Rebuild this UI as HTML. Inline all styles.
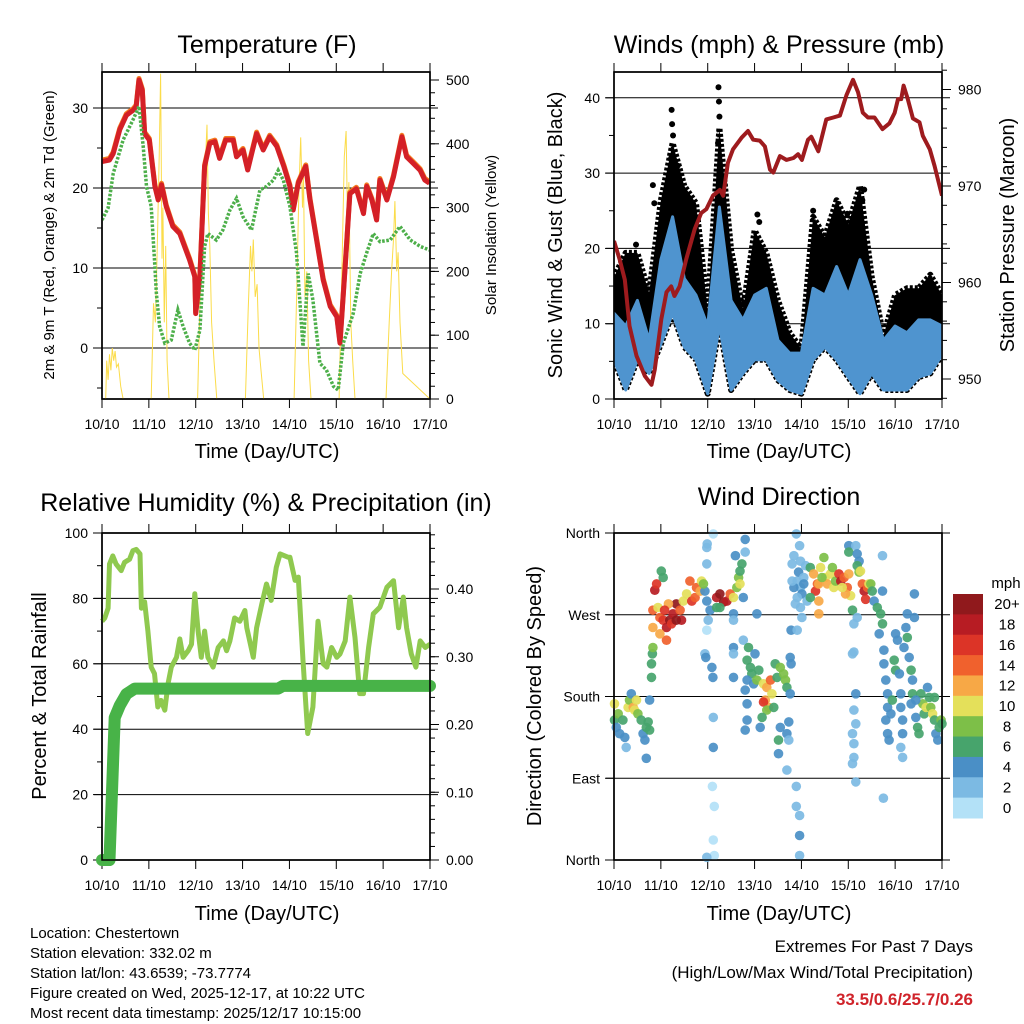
<!DOCTYPE html>
<html><head><meta charset="utf-8"><style>
html,body{margin:0;padding:0;background:#fff;}
svg{display:block;font-family:"Liberation Sans",Arial,sans-serif;}
</style></head><body>
<svg id="fig" width="1024" height="1024" viewBox="0 0 1024 1024" xmlns="http://www.w3.org/2000/svg">
<rect width="1024" height="1024" fill="#fff"/>
<g id="layer"></g>
<g text-anchor="middle" font-size="25" fill="#000">
<text x="267" y="53">Temperature (F)</text>
<text x="779" y="53">Winds (mph) &amp; Pressure (mb)</text>
<text x="266" y="511">Relative Humidity (%) &amp; Precipitation (in)</text>
<text x="779" y="505">Wind Direction</text>
</g>
<g font-size="20" text-anchor="middle">
<text x="267" y="458">Time (Day/UTC)</text>
<text x="779" y="458">Time (Day/UTC)</text>
<text x="267" y="920">Time (Day/UTC)</text>
<text x="779" y="920">Time (Day/UTC)</text>
<text transform="translate(562,235) rotate(-90)">Sonic Wind &amp; Gust (Blue, Black)</text>
<text transform="translate(1014,235) rotate(-90)">Station Pressure (Maroon)</text>
<text transform="translate(46,696) rotate(-90)">Percent &amp; Total Rainfall</text>
<text transform="translate(541,696) rotate(-90)">Direction (Colored By Speed)</text>
</g>
<g font-size="15" text-anchor="middle">
<text transform="translate(54,235) rotate(-90)">2m &amp; 9m T (Red, Orange) &amp; 2m Td (Green)</text>
<text transform="translate(496,235) rotate(-90)">Solar Insolation (Yellow)</text>
</g>
<g font-size="15">
<text x="30" y="938">Location: Chestertown</text>
<text x="30" y="958">Station elevation: 332.02 m</text>
<text x="30" y="978">Station lat/lon: 43.6539; -73.7774</text>
<text x="30" y="998">Figure created on Wed, 2025-12-17, at 10:22 UTC</text>
<text x="30" y="1018">Most recent data timestamp: 2025/12/17 10:15:00</text>
</g>
<g font-size="17" text-anchor="end">
<text x="973" y="952">Extremes For Past 7 Days</text>
<text x="973" y="978">(High/Low/Max Wind/Total Precipitation)</text>
<text x="973" y="1005" fill="#d0232a" font-weight="bold">33.5/0.6/25.7/0.26</text>
</g>
</svg>
<script>
// ---------- data ----------
const dayLabels = ["10/10","11/10","12/10","13/10","14/10","15/10","16/10","17/10"];
// temperature (F)
const tempT = [0,0.16,0.24,0.38,0.52,0.67,0.73,0.79,0.86,0.91,1.01,1.13,1.2,1.27,1.37,1.51,1.66,1.87,1.98,2.0,2.09,2.19,2.3,2.41,2.51,2.64,2.8,2.87,3.01,3.11,3.3,3.44,3.58,3.73,3.88,4.01,4.08,4.19,4.35,4.44,4.58,4.72,4.87,5.01,5.08,5.19,5.29,5.43,5.58,5.65,5.76,5.86,5.93,6.08,6.22,6.4,6.5,6.64,6.79,6.89,6.99];
const tempV = [23.3,23.5,24.3,27.3,29.1,29.75,30.2,33.5,32.2,26.8,26,20.2,18.5,20.4,17.7,15.2,14.3,11,8.9,4.3,8.9,22.7,25.6,25.8,23.7,26,26,23.9,24.75,22.25,26.8,24.75,26.4,25.2,22.7,20.2,17.25,20.6,22.7,18.5,13.5,8.5,5.2,3.9,0.6,10.2,19.3,19.9,16.8,20.2,18.5,16,21,18.5,21.4,26.4,23.9,23.1,22.2,21,20.6];
const dewT = [0,0.13,0.24,0.45,0.66,0.79,0.88,0.95,1.05,1.12,1.16,1.23,1.34,1.48,1.62,1.73,1.87,1.98,2.09,2.19,2.26,2.44,2.58,2.73,2.87,3.01,3.19,3.37,3.51,3.66,3.76,3.87,4.01,4.15,4.29,4.4,4.5,4.65,4.79,4.94,5.04,5.15,5.36,5.51,5.65,5.79,5.93,6.15,6.36,6.58,6.79,6.99];
const dewV = [16,17.5,21.8,26,28.5,30.2,25.2,20.2,17.7,11,6.8,2.7,0.6,1,4.75,2.7,0.6,-0.25,2.25,12.7,14.3,13.5,14.75,17.25,18.7,16.4,14.75,19.75,20.2,21,22.2,21,17.7,11.9,0.2,9.3,6,-1.9,-2.75,-4.8,-5.25,0.6,4.3,9.3,11.9,14.3,13.3,13.5,15.2,13.5,12.7,12.25];
const solarT = [0,0.08,0.1,0.13,0.16,0.19,0.22,0.25,0.28,0.31,0.35,0.4,0.45,1.05,1.1,1.14,1.18,1.22,1.25,1.28,1.3,1.33,1.36,1.39,1.43,2.04,2.1,2.15,2.2,2.24,2.27,2.3,2.34,2.39,2.45,3.06,3.12,3.17,3.2,3.23,3.27,3.31,3.35,3.4,3.45,4.1,4.16,4.2,4.24,4.28,4.3,4.33,4.37,4.41,4.46,5.06,5.12,5.17,5.21,5.24,5.27,5.31,5.35,5.4,6.06,6.13,6.18,6.22,6.25,6.29,6.32,6.36,6.42,7];
const solarV = [0,0,60,30,70,45,80,60,75,50,55,20,0,0,150,120,240,380,510,220,300,120,240,60,0,0,180,280,360,430,290,240,120,60,0,0,140,240,200,250,160,180,80,40,0,0,180,320,410,300,350,160,200,60,0,0,200,380,420,280,340,120,60,0,0,120,200,250,310,200,230,120,40,0];
// winds (mph) & pressure (mb)
const windT = [0,0.25,0.5,0.75,1,1.25,1.5,1.75,2,2.25,2.5,2.75,3,3.25,3.5,3.75,4,4.25,4.5,4.75,5,5.25,5.5,5.75,6,6.25,6.5,6.75,7];
const sonicHi = [11.4,9.7,13.1,7.8,18.5,24.2,16,13.8,9.7,25.5,13.1,10.5,13.8,14.7,7.8,6.1,6.1,14.7,13.8,17.6,13.8,18.5,13.8,7.8,9.7,8.8,10.5,10.5,9.7];
const sonicLo = [5.2,1.2,5.2,3.4,7.3,11.4,6.9,5.2,0.7,9.7,1.2,3.4,5.2,5.2,2.5,1.2,0.7,5.2,6.9,5.2,2.9,0.7,3.4,1.2,1.2,1.2,2.9,3.4,5.9];
const gustHi = [16.2,19.4,19.4,14,26.4,34,28.3,26,11.8,36,19.8,11.8,22.4,19.4,13.1,8.8,6.6,24.2,21.5,26.4,23.2,28.3,16.2,8.4,13.8,14.7,14.7,16.5,13.8];
const gustOutT = [0.47,0.83,0.86,1.23,1.24,1.26,1.22,1.36,1.58,2.23,2.24,2.25,2.22,2.26,3.06,3.1,5.34,5.3,4.98,4.25];
const gustOutV = [20.5,28.4,26,38.4,36.5,35,32,31,26,41.4,39.5,37.5,34,30,24.5,23.5,27.8,26.4,24.6,25];
const presT = [0,0.12,0.23,0.33,0.48,0.66,0.8,0.87,1.01,1.12,1.22,1.29,1.4,1.54,1.72,1.86,1.97,2.11,2.26,2.33,2.43,2.54,2.72,2.86,2.97,3.11,3.22,3.33,3.4,3.54,3.68,3.83,3.93,4.01,4.14,4.21,4.36,4.53,4.68,4.82,4.96,5.1,5.21,5.31,5.42,5.56,5.73,5.88,5.99,6.06,6.13,6.18,6.27,6.38,6.52,6.59,6.74,6.84,7];
const presV = [964.3,962.4,960.3,955.5,952.4,950.3,949.4,951,956.2,959,959.6,958.6,959.6,962.4,965.5,967.2,967.6,969,969.6,969,972.4,973.8,975,975.7,974.8,974.7,974.1,971.7,971.4,973.1,972.7,972.9,973.3,972.7,974.8,975.1,973.6,976.9,977.1,977.3,979.4,981,979.7,977.6,977.1,977.1,975.9,976.5,977.6,979,979,980.4,979,977,976.6,975.2,973.8,972.1,969];
// relative humidity (%) & precipitation (in)
const rhT = [0,0.06,0.13,0.16,0.23,0.3,0.41,0.48,0.59,0.66,0.73,0.81,0.84,0.91,0.98,1.05,1.12,1.19,1.26,1.34,1.41,1.48,1.59,1.66,1.73,1.84,1.91,1.98,2.05,2.12,2.19,2.26,2.37,2.48,2.59,2.66,2.73,2.83,2.94,3.05,3.09,3.23,3.3,3.41,3.51,3.61,3.72,3.8,3.97,4.01,4.12,4.19,4.29,4.39,4.5,4.61,4.72,4.8,4.9,5.01,5.08,5.19,5.29,5.4,5.5,5.58,5.69,5.79,5.93,6.08,6.22,6.33,6.43,6.5,6.6,6.7,6.79,6.9,7];
const rhV = [73,74,77,90.5,93,90.5,88.5,91,92,94.6,95,93.6,77,79,70,59,57,46.8,48.8,45.8,54,59,62,67.6,62,64,66,81.4,70,62,70,62,59,65,67,64,67,74,73,76.3,71,62,71,78.3,84.4,79.4,89.5,93.6,92.6,92.6,85.5,86.5,61,38.7,46.8,73,60,59,65,62,63,67,80.4,68,50.9,50.9,65,75.3,77.3,83.4,85.4,71,80.4,71,63,59,67,65,66,67,71.2];
const precT = [0,0.16,0.27,0.38,0.52,0.7,3.76,3.86,7];
const precV = [0,0,0.21,0.228,0.245,0.253,0.253,0.257,0.257];
// wind direction: day, degrees, speed (mph)
const dirT = [0.01,0.01,0.05,0.09,0.12,0.19,0.23,0.26,0.3,0.33,0.37,0.41,0.44,0.48,0.51,0.58,0.62,0.66,0.69,0.73,0.76,0.69,0.76,
0.8,0.8,0.82,0.83,0.83,0.83,0.87,0.91,1.01,1.05,0.94,0.98,1.05,1.12,1.19,1.23,1.26,1.33,1.41,1.44,1.48,1.12,1.16,1.08,1.33,0.98,
1.55,1.62,1.66,1.73,1.76,1.84,1.87,1.94,1.91,1.98,2.01,1.98,2.05,1.98,1.98,1.99,2.12,
2.09,2.11,2.12,2.12,2.1,2.14,2.12,2.14,1.98,1.94,1.96,
2.19,2.26,2.34,2.41,2.48,2.55,2.62,2.66,2.69,2.69,2.73,2.26,2.19,2.55,2.55,2.59,2.76,2.8,2.8,2.55,2.55,2.55,
2.76,2.84,2.87,2.91,2.94,2.98,2.84,2.8,3.01,3.05,3.09,3.05,2.84,2.8,2.84,
3.19,3.26,3.34,3.23,3.3,3.19,3.26,3.16,3.37,3.41,3.12,3.51,3.51,3.48,3.44,3.55,3.62,3.66,3.69,3.69,3.73,3.76,3.76,3.78,3.55,3.69,3.73,
3.89,3.89,3.96,3.96,3.96,3.89,3.96,3.78,3.91,
3.8,3.84,3.91,3.94,3.98,4.01,4.05,4.09,4.12,3.84,3.91,3.98,4.01,3.87,3.8,3.98,4.05,
4.19,4.26,4.3,4.34,4.37,4.37,4.41,4.48,4.51,4.55,4.62,4.66,4.69,4.73,4.8,4.84,4.91,4.98,5.01,5.05,4.94,4.87,4.19,4.37,4.44,
5.01,5.01,5.16,5.19,5.23,5.19,5.23,5.26,5.3,5.34,5.37,5.41,5.44,5.48,5.51,5.55,5.62,5.69,5.73,5.66,5.73,5.73,5.09,5.12,5.19,
5.09,5.12,5.16,5.12,5.16,5.09,5.12,5.12,5.09,5.16,5.75,
5.76,5.76,5.8,5.84,5.84,5.8,5.84,5.87,5.91,5.94,5.98,6.01,6.01,6.05,6.09,6.12,6.12,6.16,6.16,6.12,6.16,6.19,6.23,6.26,6.26,6.3,6.34,6.37,6.37,6.41,6.41,6.34,6.44,6.48,6.51,6.55,6.59,6.62,6.66,6.69,6.73,6.76,6.8,6.84,6.87,6.91,6.94,6.98,7.0,6.84,6.44];
const dirD = [172,154,146,161,139,154,135,124,168,176,183,168,165,176,161,154,139,132,146,152,143,112,176,
201,216,227,234,256,275,297,304,318,311,278,267,264,256,264,260,271,282,275,264,285,242,282,275,264,249,
293,307,285,289,300,296,307,296,304,285,264,253,275,344,326,348,359,
212,201,157,124,81,59,22,5,3,227,223,
289,293,284,285,293,289,300,311,318,304,326,278,278,271,264,335,289,339,353,234,227,201,
242,220,234,212,205,194,198,187,227,198,209,271,154,143,172,
194,190,198,176,168,174,165,157,183,168,146,132,117,201,216,212,205,198,190,139,152,183,223,216,146,99,132,
81,59,49,27,5,359,346,253,253,
326,335,307,317,300,293,311,324,285,300,289,278,267,282,307,329,304,
322,315,296,304,285,271,322,333,311,304,315,322,300,307,315,307,311,300,315,291,293,300,289,304,311,
346,339,346,337,329,324,317,318,304,296,287,300,304,304,296,285,278,271,260,249,296,335,275,260,267,
227,229,183,165,150,139,128,113,106,86,68,
231,216,198,183,168,154,139,132,161,176,220,209,249,242,205,183,168,154,139,124,113,234,256,271,245,223,209,198,183,293,267,172,157,146,139,183,172,161,168,190,179,168,161,154,139,132,146,154,150,179,176];
const dirS = [10,6,4,8,4,6,4,2,10,8,4,12,10,10,8,6,4,4,6,6,6,4,4,
6,6,6,8,12,14,18,16,6,6,10,14,16,18,20,16,18,20,14,18,10,14,12,16,20,12,
10,14,16,14,14,12,10,4,8,4,2,0,4,2,2,2,0,
4,4,2,4,0,0,0,0,2,2,4,
18,20,20,18,14,10,8,8,6,10,6,6,6,4,2,4,4,2,4,4,2,4,
2,6,6,6,6,4,4,4,4,8,6,4,4,4,4,
10,12,14,12,12,16,8,6,10,6,4,6,4,6,6,8,8,8,6,4,4,4,4,4,4,2,2,
2,2,2,4,2,2,2,4,2,
2,2,2,4,2,4,2,2,2,4,2,2,2,2,2,2,4,
6,12,16,14,12,12,10,8,10,12,10,8,10,8,16,18,14,14,12,10,12,10,6,12,8,
4,6,2,4,4,6,8,10,14,18,16,14,10,8,6,4,6,6,6,4,4,2,6,2,2,
2,2,4,2,2,2,2,2,2,2,2,
4,4,4,4,4,4,4,4,4,6,6,6,4,4,4,4,4,4,4,2,2,4,4,4,6,4,6,4,6,4,4,4,4,6,6,6,8,6,10,4,6,8,10,6,4,4,6,8,6,6,4];
const speedLabels = ["0","2","4","6","8","10","12","14","16","18","20+"];
const speedColors = ["#b3e1f7","#7cbae3","#4a8fc6","#47a46c","#7dbf48","#e4e05a","#f7a846","#f0612d","#dc3427","#b71c23","#90191c"];

// ---------- helpers ----------
const NS = "http://www.w3.org/2000/svg";
const layer = document.getElementById("layer");
function mk(tag, attrs, parent){ const e=document.createElementNS(NS,tag); for(const k in attrs) e.setAttribute(k,attrs[k]); (parent||layer).appendChild(e); return e; }
function txt(x,y,s,anchor,size,parent){ const e=mk("text",{x:x,y:y,"text-anchor":anchor,"font-size":size},parent); e.textContent=s; return e; }
function pathFrom(xs,ys,fx,fy){ let d=""; for(let i=0;i<xs.length;i++){ d+=(i?"L":"M")+fx(xs[i]).toFixed(1)+","+fy(ys[i]).toFixed(1);} return d; }

function frame(name,x0,x1,y0,y1){
  const g=mk("g",{});
  
  
  mk("rect",{x:x0,y:y0,width:x1-x0,height:y1-y0,fill:"none",stroke:"#000","stroke-width":1.5},g);
  return g;
}
function timeAxis(g,x0,x1,y0,y1,ylab){
  const xs=t=>x0+t*(x1-x0)/7;
  for(let i=0;i<dayLabels.length;i++){
    const x=xs(i);
    mk("line",{x1:x,y1:y0-9,x2:x,y2:y0,stroke:"#000","stroke-width":1},g);
    mk("line",{x1:x,y1:y1,x2:x,y2:y1+9,stroke:"#000","stroke-width":1},g);
    const t=txt(x,ylab,dayLabels[i],"middle",14,g);
    
    
  }
}
function leftTicks(g,x0,vals,fy,labels,minor){
  vals.forEach((v,i)=>{ const y=fy(v); mk("line",{x1:x0-9,y1:y,x2:x0,y2:y,stroke:"#000"},g);
    const t=txt(x0-14,y+5,labels[i],"end",14,g);
    
     });
  (minor||[]).forEach(v=>{ const y=fy(v); mk("line",{x1:x0-5,y1:y,x2:x0,y2:y,stroke:"#000"},g); });
}
function rightTicks(g,x1,vals,fy,labels,minor){
  vals.forEach((v,i)=>{ const y=fy(v); mk("line",{x1:x1,y1:y,x2:x1+9,y2:y,stroke:"#000"},g);
    const t=txt(x1+16,y+5,labels[i],"start",14,g);
    
     });
  (minor||[]).forEach(v=>{ const y=fy(v); mk("line",{x1:x1,y1:y,x2:x1+5,y2:y,stroke:"#000"},g); });
}
function grid(g,x0,x1,vals,fy){ vals.forEach(v=>{ const y=fy(v); mk("line",{x1:x0-8,y1:y,x2:x1+8,y2:y,stroke:"#000","stroke-width":1},g); }); }
function range(a,b,s){ const r=[]; for(let v=a;v<=b+1e-9;v+=s) r.push(+v.toFixed(4)); return r; }

// ---------- panel 1: temperature ----------
(function(){
  const x0=102,x1=430,y0=72,y1=399;
  const xs=t=>x0+t*(x1-x0)/7, yL=v=>348-v*8, yR=s=>399-s*0.638;
  const clip=mk("clipPath",{id:"c1"}); mk("rect",{x:x0,y:y0,width:x1-x0,height:y1-y0},clip);
  const g=frame("temperature",x0,x1,y0,y1);
  grid(g,x0,x1,[0,10,20,30],yL);
  const d=mk("g",{"clip-path":"url(#c1)"});
  const s=mk("path",{d:pathFrom(solarT,solarV,xs,yR),fill:"none",stroke:"#fbdc4a","stroke-width":1});
   
  d.appendChild(s);
  const o=mk("path",{d:pathFrom(tempT,tempV,xs,v=>yL(v)-1.5),fill:"none",stroke:"#f47b20","stroke-width":5,"stroke-linejoin":"round"},d);
   
  const r=mk("path",{d:pathFrom(tempT,tempV,xs,yL),fill:"none",stroke:"#d42027","stroke-width":5,"stroke-linejoin":"round"},d);
   
  const gd=mk("path",{d:pathFrom(dewT,dewV,xs,yL),fill:"none",stroke:"#4daf4a","stroke-width":3.5,"stroke-dasharray":"2.6 1.6"},d);
   
  mk("rect",{x:x0,y:y0,width:x1-x0,height:y1-y0,fill:"none",stroke:"#000","stroke-width":1.5});
  timeAxis(g,x0,x1,y0,y1,429);
  leftTicks(g,x0,[0,10,20,30],yL,["0","10","20","30"],[-5,5,15,25]);
  rightTicks(g,x1,[0,100,200,300,400,500],yR,["0","100","200","300","400","500"],range(20,480,20));
})();

// ---------- panel 2: winds ----------
(function(){
  const x0=614,x1=942,y0=72,y1=399;
  const xs=t=>x0+t*(x1-x0)/7, yL=v=>399-v*7.53, yR=p=>379-(p-950)*9.65;
  const clip=mk("clipPath",{id:"c2"}); mk("rect",{x:x0,y:y0,width:x1-x0,height:y1-y0},clip);
  const g=frame("winds",x0,x1,y0,y1);
  grid(g,x0,x1,[10,20,30,40],yL);
  const d=mk("g",{"clip-path":"url(#c2)"});
  let gp=pathFrom(windT,gustHi,xs,yL); for(let i=windT.length-1;i>=0;i--) gp+="L"+xs(windT[i]).toFixed(1)+","+yL(sonicLo[i]).toFixed(1); gp+="Z";
  const gb=mk("path",{d:gp,fill:"#000",stroke:"#000","stroke-width":6,"stroke-linejoin":"round","stroke-dasharray":"3 2"},d);
   
  for(let i=0;i<gustOutT.length;i++){ const c=mk("circle",{cx:xs(gustOutT[i]),cy:yL(gustOutV[i]),r:3,fill:"#000"},d);
      }
  let bp=pathFrom(windT,sonicHi,xs,yL); for(let i=windT.length-1;i>=0;i--) bp+="L"+xs(windT[i]).toFixed(1)+","+yL(sonicLo[i]).toFixed(1); bp+="Z";
  const bb=mk("path",{d:bp,fill:"#4f94cf",stroke:"#4f94cf","stroke-width":3,"stroke-linejoin":"round"},d);
   
  const p=mk("path",{d:pathFrom(presT,presV,xs,yR),fill:"none",stroke:"#9e1b1e","stroke-width":4,"stroke-linejoin":"round"},d);
   
  mk("rect",{x:x0,y:y0,width:x1-x0,height:y1-y0,fill:"none",stroke:"#000","stroke-width":1.5});
  timeAxis(g,x0,x1,y0,y1,429);
  leftTicks(g,x0,[0,10,20,30,40],yL,["0","10","20","30","40"],[5,15,25,35]);
  rightTicks(g,x1,[950,960,970,980],yR,["950","960","970","980"],range(948,982,2));
})();

// ---------- panel 3: humidity ----------
(function(){
  const x0=102,x1=430,y0=533,y1=860;
  const xs=t=>x0+t*(x1-x0)/7, yL=v=>860-v*3.27, yR=p=>860-p*677.5;
  const g=frame("humidity",x0,x1,y0,y1);
  grid(g,x0,x1,[20,40,60,80],yL);
  const rh=mk("path",{d:pathFrom(rhT,rhV,xs,yL),fill:"none",stroke:"#8fc94f","stroke-width":5,"stroke-linejoin":"round"});
   
  const pr=mk("path",{d:pathFrom(precT,precV,xs,yR),fill:"none",stroke:"#48b348","stroke-width":12,"stroke-linejoin":"round","stroke-linecap":"round"});
   
  mk("rect",{x:x0,y:y0,width:x1-x0,height:y1-y0,fill:"none",stroke:"#000","stroke-width":1.5});
  timeAxis(g,x0,x1,y0,y1,890);
  leftTicks(g,x0,[0,20,40,60,80,100],yL,["0","20","40","60","80","100"],[10,30,50,70,90]);
  rightTicks(g,x1,[0,0.1,0.2,0.3,0.4],yR,["0.00","0.10","0.20","0.30","0.40"],range(0.02,0.48,0.02));
})();

// ---------- panel 4: wind direction ----------
(function(){
  const x0=614,x1=942,y0=533,y1=860;
  const xs=t=>x0+t*(x1-x0)/7, yD=v=>860-v*327/360;
  const g=frame("wind-direction",x0,x1,y0,y1);
  grid(g,x0,x1,[90,180,270],yD);
  for(let i=0;i<dirT.length;i++){
    const idx=Math.min(10,Math.floor(dirS[i]/2));
    const c=mk("circle",{cx:xs(dirT[i]).toFixed(1),cy:yD(dirD[i]).toFixed(1),r:4.8,fill:speedColors[idx],"fill-opacity":0.92});
    
    
  }
  mk("rect",{x:x0,y:y0,width:x1-x0,height:y1-y0,fill:"none",stroke:"#000","stroke-width":1.5});
  mk("line",{x1:x0-8,y1:y0,x2:x1+8,y2:y0,stroke:"#000"},g);
  mk("line",{x1:x0-8,y1:y1,x2:x1+8,y2:y1,stroke:"#000"},g);
  timeAxis(g,x0,x1,y0,y1,890);
  leftTicks(g,x0,[0,90,180,270,360],yD,["North","East","South","West","North"],[]);
  const cb=mk("g",{});
  
  
  const bx=953,bw=30,btop=594,bh=224/11;
  for(let i=0;i<speedColors.length;i++){
    const k=10-i;
    mk("rect",{x:bx,y:btop+i*bh,width:bw,height:bh+0.5,fill:speedColors[k]},cb);
    const t=txt(1007,btop+i*bh+bh/2+5,speedLabels[k],"middle",15,cb);
    
    
  }
  const u=txt(1006,588,"mph","middle",15,cb);
  
  
})();
</script>
</body></html>
